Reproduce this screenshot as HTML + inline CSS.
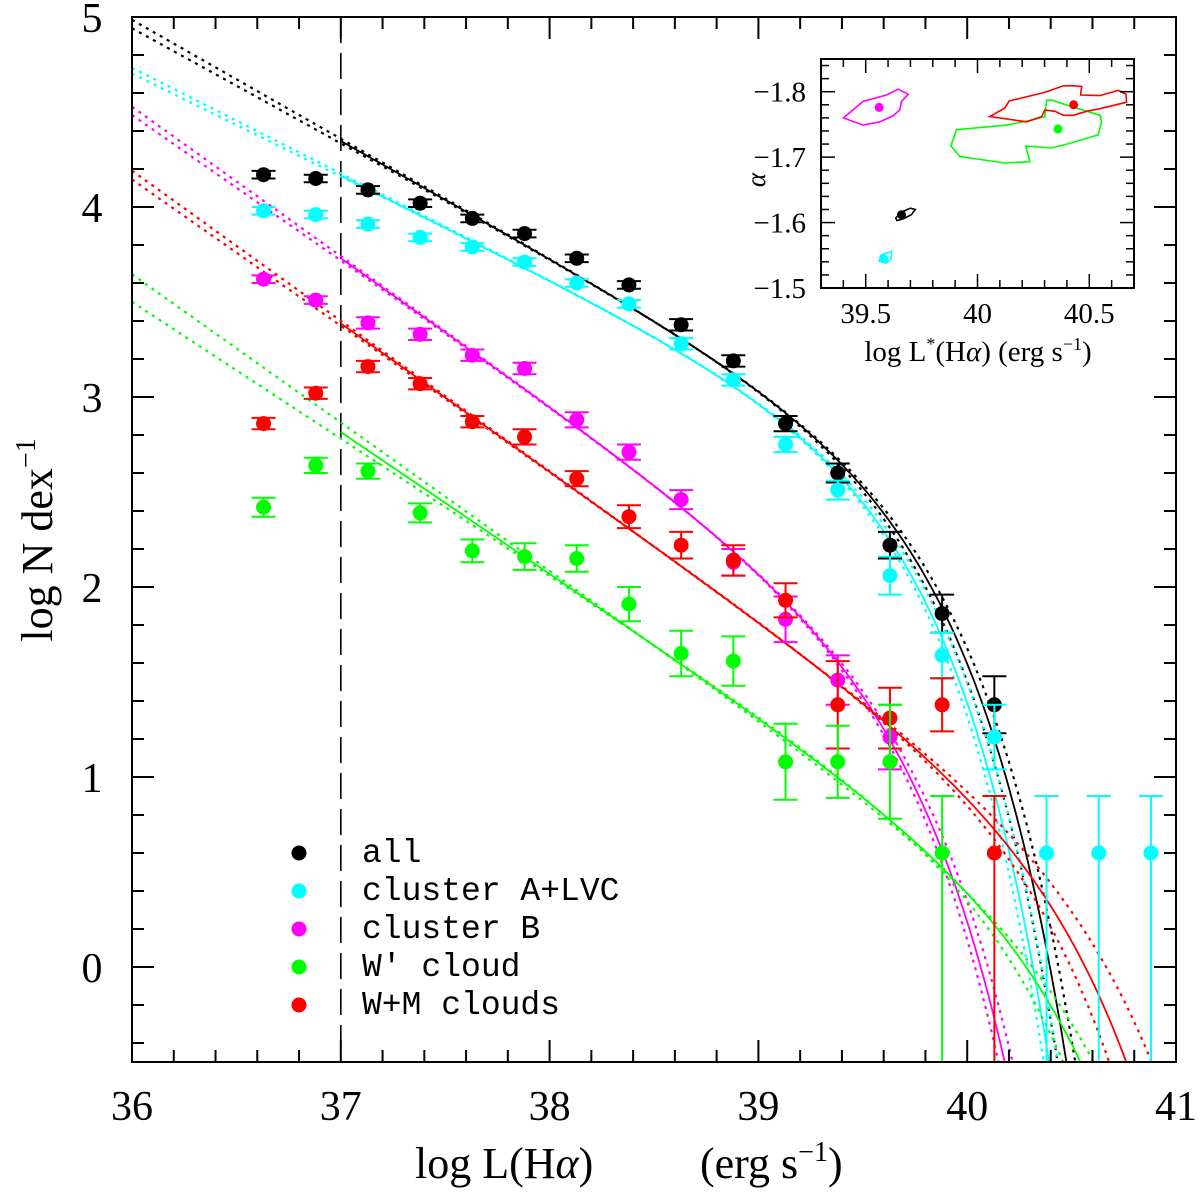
<!DOCTYPE html>
<html><head><meta charset="utf-8">
<style>
html,body{margin:0;padding:0;background:#fff;}
svg{display:block;}
text{font-family:"Liberation Serif",serif;fill:#000;}
.mono{font-family:"Liberation Mono",monospace;}
</style></head>
<body>
<svg id="chart" width="1200" height="1198" viewBox="0 0 1200 1198">
<defs>
<clipPath id="mainclip"><rect x="132" y="17" width="1044" height="1045"/></clipPath>
<clipPath id="insetclip"><rect x="821" y="59" width="313" height="229"/></clipPath>
</defs>
<g id="main"></g>
<g id="inset"></g>
</svg>
<script>
// ---------- data ----------
const binCenters = [36.63,36.88,37.13,37.38,37.63,37.88,38.13,38.38,38.63,38.88,39.13,39.38,39.63,39.88,40.13,40.38,40.63,40.88];
const seriesNames = ["all","cluster A+LVC","cluster B","W' cloud","W+M clouds"];
const seriesColors = ["#000000","#00ffff","#ff00ff","#00ff00","#ff0000"];
const allVals =     [4.17,4.15,4.09,4.02,3.94,3.86,3.73,3.59,3.38,3.19,2.86,2.60,2.22,1.86,1.38];
const allErr =      [0.02,0.02,0.02,0.02,0.02,0.02,0.02,0.02,0.03,0.03,0.04,0.05,0.07,0.10,0.15];
const cyanVals =    [3.98,3.96,3.91,3.84,3.79,3.71,3.60,3.49,3.28,3.09,2.75,2.51,2.06,1.64,1.21,0.60,0.60,0.60];
const cyanErr =     [0.02,0.02,0.02,0.02,0.02,0.02,0.02,0.02,0.03,0.03,0.04,0.05,0.10,0.12,0.17,0.30,0.30,0.30];
const magVals =     [3.62,3.51,3.39,3.33,3.22,3.15,2.88,2.71,2.46,2.13,1.83,1.51,1.21];
const magErr =      [0.02,0.02,0.03,0.03,0.03,0.03,0.04,0.04,0.05,0.07,0.12,0.13,0.17];
const greenVals =   [2.42,2.64,2.61,2.39,2.19,2.16,2.15,1.91,1.65,1.61,1.08,1.08,1.08,0.60];
const greenErr =    [0.05,0.04,0.04,0.05,0.06,0.07,0.07,0.09,0.12,0.13,0.20,0.19,0.30,0.30];
const redVals =     [2.86,3.02,3.16,3.07,2.87,2.79,2.57,2.37,2.22,2.14,1.93,1.38,1.31,1.38,0.60];
const redErr =      [0.03,0.03,0.03,0.03,0.03,0.04,0.04,0.06,0.07,0.08,0.09,0.23,0.16,0.14,0.30];
// Schechter fit params: [logA, alpha, logLstar]
const fitSolid = [[2.70,-1.615,39.68],[2.76,-1.545,39.58],[1.74,-1.775,39.57],[0.32,-1.745,40.35],[0.72,-1.78,40.42]];
const fitDotA  = [[2.654,-1.625,39.73],[2.718,-1.555,39.63],[1.686,-1.785,39.62],[0.136,-1.78,40.50],[0.557,-1.79,40.60]];
const fitDotB  = [[2.745,-1.605,39.63],[2.785,-1.540,39.55],[1.784,-1.765,39.53],[0.477,-1.72,40.20],[0.834,-1.77,40.30]];
// inset best fits [logL*, alpha]
const insetLstar = [39.66,39.58,39.56,40.36,40.43];
const insetAlpha = [-1.612,-1.545,-1.776,-1.743,-1.78];
const contourAll = [[39.634,-1.607],[39.660,-1.616],[39.700,-1.622],[39.722,-1.620],[39.704,-1.612],[39.670,-1.606],[39.640,-1.603]];
const contourCyan = [[39.56,-1.541],[39.57,-1.551],[39.615,-1.556],[39.615,-1.546],[39.593,-1.538]];
const contourMag = [[39.40,-1.760],[39.488,-1.785],[39.593,-1.795],[39.645,-1.804],[39.69,-1.796],[39.66,-1.785],[39.652,-1.772],[39.622,-1.763],[39.563,-1.754],[39.488,-1.749]];
const contourGreen = [[39.906,-1.742],[40.13,-1.749],[40.249,-1.757],[40.301,-1.762],[40.309,-1.787],[40.331,-1.787],[40.443,-1.775],[40.548,-1.764],[40.555,-1.754],[40.540,-1.734],[40.413,-1.721],[40.331,-1.714],[40.216,-1.717],[40.234,-1.693],[40.122,-1.691],[39.921,-1.701],[39.881,-1.717]];
const contourRed = [[40.055,-1.762],[40.122,-1.775],[40.142,-1.786],[40.301,-1.799],[40.384,-1.809],[40.428,-1.809],[40.466,-1.808],[40.461,-1.795],[40.548,-1.794],[40.63,-1.802],[40.664,-1.796],[40.667,-1.784],[40.548,-1.774],[40.488,-1.770],[40.428,-1.764],[40.384,-1.764],[40.346,-1.770],[40.301,-1.772],[40.287,-1.762],[40.219,-1.754]];

const NS="http://www.w3.org/2000/svg";
function mk(tag,attrs,parent){const e=document.createElementNS(NS,tag);for(const k in attrs)e.setAttribute(k,attrs[k]);parent.appendChild(e);return e;}

// ---------- main axes ----------
const X0=132,X1=1176,Y0=17,Y1=1062;
const xs=v=>X0+(v-36)/5*(X1-X0);
const ys=v=>Y1-(v+0.5)/5.5*(Y1-Y0);
const main=document.getElementById('main');
const plot=mk('g',{'clip-path':'url(#mainclip)'},main);



function sch(x,p){return p[0]+(p[1]+1)*(x-p[2])-Math.pow(10,x-p[2])*Math.LOG10E;}
function curvePath(p,xa,xb){let d='';for(let x=xa;x<=xb+1e-9;x+=0.01){const y=sch(x,p);d+=(d?'L':'M')+xs(x).toFixed(1)+','+ys(Math.max(y,-1)).toFixed(1);if(y<-1)break;}return d;}

const dl=mk('line',{x1:xs(37),x2:xs(37),y1:Y0,y2:Y1,stroke:'#000','stroke-width':1.6,'stroke-dasharray':'26,10'},plot);



[0,1,2,3,4].forEach(i=>{
  const c=seriesColors[i];
  [fitDotA[i],fitDotB[i]].forEach(p=>{
    const e=mk('path',{d:curvePath(p,36,41),fill:'none',stroke:c,'stroke-width':2.2,'stroke-dasharray':'3,5'},plot);
    
    
  });
  const s=mk('path',{d:curvePath(fitSolid[i],37,41),fill:'none',stroke:c,'stroke-width':1.8},plot);
  
  
});

const seriesVals=[allVals,cyanVals,magVals,greenVals,redVals];
const seriesErr=[allErr,cyanErr,magErr,greenErr,redErr];
[0,1,2,4,3].forEach(i=>{
  const c=seriesColors[i];
  const g=mk('g',{},plot);
  
  
  seriesVals[i].forEach((v,j)=>{
    const x=xs(binCenters[j]);
    const er=seriesErr[i][j];
    const lo = v<=0.6 ? -1 : v-er;
    const hi = v<=0.6 ? v+0.3 : v+er;
    mk('line',{x1:x,x2:x,y1:ys(lo),y2:ys(hi),stroke:c,'stroke-width':2},g);
    mk('line',{x1:x-12,x2:x+12,y1:ys(hi),y2:ys(hi),stroke:c,'stroke-width':2},g);
    if(v>0.6) mk('line',{x1:x-12,x2:x+12,y1:ys(lo),y2:ys(lo),stroke:c,'stroke-width':2},g);
    const pt=mk('circle',{cx:x,cy:ys(v),r:7.5,fill:c},g);
    
    
  });
});

const fr=mk('rect',{x:X0,y:Y0,width:X1-X0,height:Y1-Y0,fill:'none',stroke:'#000','stroke-width':2},main);


const tk=mk('g',{stroke:'#000','stroke-width':2},main);


for(let k=0;k<=25;k++){const v=36+k*0.2;const x=xs(v);const L=(k%5==0)?22:12;
  mk('line',{x1:x,x2:x,y1:Y1,y2:Y1-L},tk);mk('line',{x1:x,x2:x,y1:Y0,y2:Y0+L},tk);}
for(let k=0;k<=27;k++){const v=-0.4+k*0.2;if(v>5.001)break;const y=ys(v);const L=(Math.abs(v-Math.round(v))<1e-6)?22:12;
  mk('line',{x1:X0,x2:X0+L,y1:y,y2:y},tk);mk('line',{x1:X1,x2:X1-L,y1:y,y2:y},tk);}
const xTicks=["36","37","38","39","40","41"];
xTicks.forEach((t,k)=>{const e=mk('text',{x:xs(36+k),y:1120,'font-size':42,'text-anchor':'middle'},main);e.textContent=t;
  });
const yTicks=["0","1","2","3","4","5"];
yTicks.forEach((t,k)=>{const e=mk('text',{x:92,y:ys(k)+15,'font-size':42,'text-anchor':'middle'},main);e.textContent=t;
  });
const xt=mk('text',{x:415,y:1178,'font-size':44},main);
xt.innerHTML='log L(H<tspan font-style="italic">α</tspan>)';

const xt2=mk('text',{x:700,y:1178,'font-size':44},main);
xt2.innerHTML='(erg s<tspan font-size="28" dy="-17">−1</tspan><tspan dy="17">)</tspan>';

const yt=mk('text',{x:0,y:0,'font-size':44,'text-anchor':'middle',transform:'translate(52,540) rotate(-90)'},main);
yt.innerHTML='log N dex<tspan font-size="28" dy="-17">−1</tspan>';


const lg=mk('g',{},main);

seriesNames.forEach((n,i)=>{
  const y=853+i*38;
  const le=mk('g',{},lg);
  
  mk('circle',{cx:299,cy:y,r:7.5,fill:seriesColors[i]},le);
  const t=mk('text',{x:362,y:y+9,'font-size':33,class:'mono'},le);t.textContent=n;
});

// ---------- inset ----------
const IX0=821,IX1=1134,IY0=59,IY1=288;
const ixs=v=>IX0+(v-39.3)/1.4*(IX1-IX0);
const iys=v=>IY1-(v+1.5)/(-0.35)*(IY1-IY0);
const inset=document.getElementById('inset');
mk('rect',{x:IX0,y:IY0,width:IX1-IX0,height:IY1-IY0,fill:'#fff',stroke:'none'},inset);
const ip=mk('g',{'clip-path':'url(#insetclip)'},inset);
const contours=[contourAll,contourCyan,contourMag,contourGreen,contourRed];
contours.forEach((cs,i)=>{
  const pts=cs.map(p=>ixs(p[0]).toFixed(1)+','+iys(p[1]).toFixed(1)).join(' ');
  const e=mk('polygon',{points:pts,fill:'none',stroke:seriesColors[i],'stroke-width':1.6},ip);
  
});
insetLstar.forEach((l,i)=>{
  const e=mk('circle',{cx:ixs(l),cy:iys(insetAlpha[i]),r:4.5,fill:seriesColors[i]},ip);
  
});
const ifr=mk('rect',{x:IX0,y:IY0,width:IX1-IX0,height:IY1-IY0,fill:'none',stroke:'#000','stroke-width':2},inset);

const itk=mk('g',{stroke:'#000','stroke-width':1.5},inset);

for(let k=0;k<=14;k++){const v=39.3+k*0.1;const x=ixs(v);const L=(Math.abs(v*2-Math.round(v*2))<1e-6)?14:8;
  mk('line',{x1:x,x2:x,y1:IY1,y2:IY1-L},itk);mk('line',{x1:x,x2:x,y1:IY0,y2:IY0+L},itk);}
for(let k=0;k<=17;k++){const v=-1.5-k*0.02;const y=iys(v);const L=(k%5==0)?14:8;
  mk('line',{x1:IX0,x2:IX0+L,y1:y,y2:y},itk);mk('line',{x1:IX1,x2:IX1-L,y1:y,y2:y},itk);}
const ixTicks=["39.5","40","40.5"];
ixTicks.forEach(t=>{const e=mk('text',{x:ixs(parseFloat(t)),y:323,'font-size':29,'text-anchor':'middle'},inset);e.textContent=t;
  });
const iyTicks=["−1.8","−1.7","−1.6","−1.5"];
iyTicks.forEach(t=>{const v=parseFloat(t.replace('−','-'));const e=mk('text',{x:806,y:iys(v)+10,'font-size':29,'text-anchor':'end'},inset);e.textContent=t;
  });
const ixt=mk('text',{x:978,y:361,'font-size':29,'text-anchor':'middle'},inset);
ixt.innerHTML='log L<tspan font-size="18" dy="-11">*</tspan><tspan dy="11">(H</tspan><tspan font-style="italic">α</tspan>) (erg s<tspan font-size="18" dy="-11">−1</tspan><tspan dy="11">)</tspan>';

const iyt=mk('text',{x:0,y:0,'font-size':27,'text-anchor':'middle','font-style':'italic',transform:'translate(765,180) rotate(-90)'},inset);
iyt.textContent='α';

</script>
</body></html>
